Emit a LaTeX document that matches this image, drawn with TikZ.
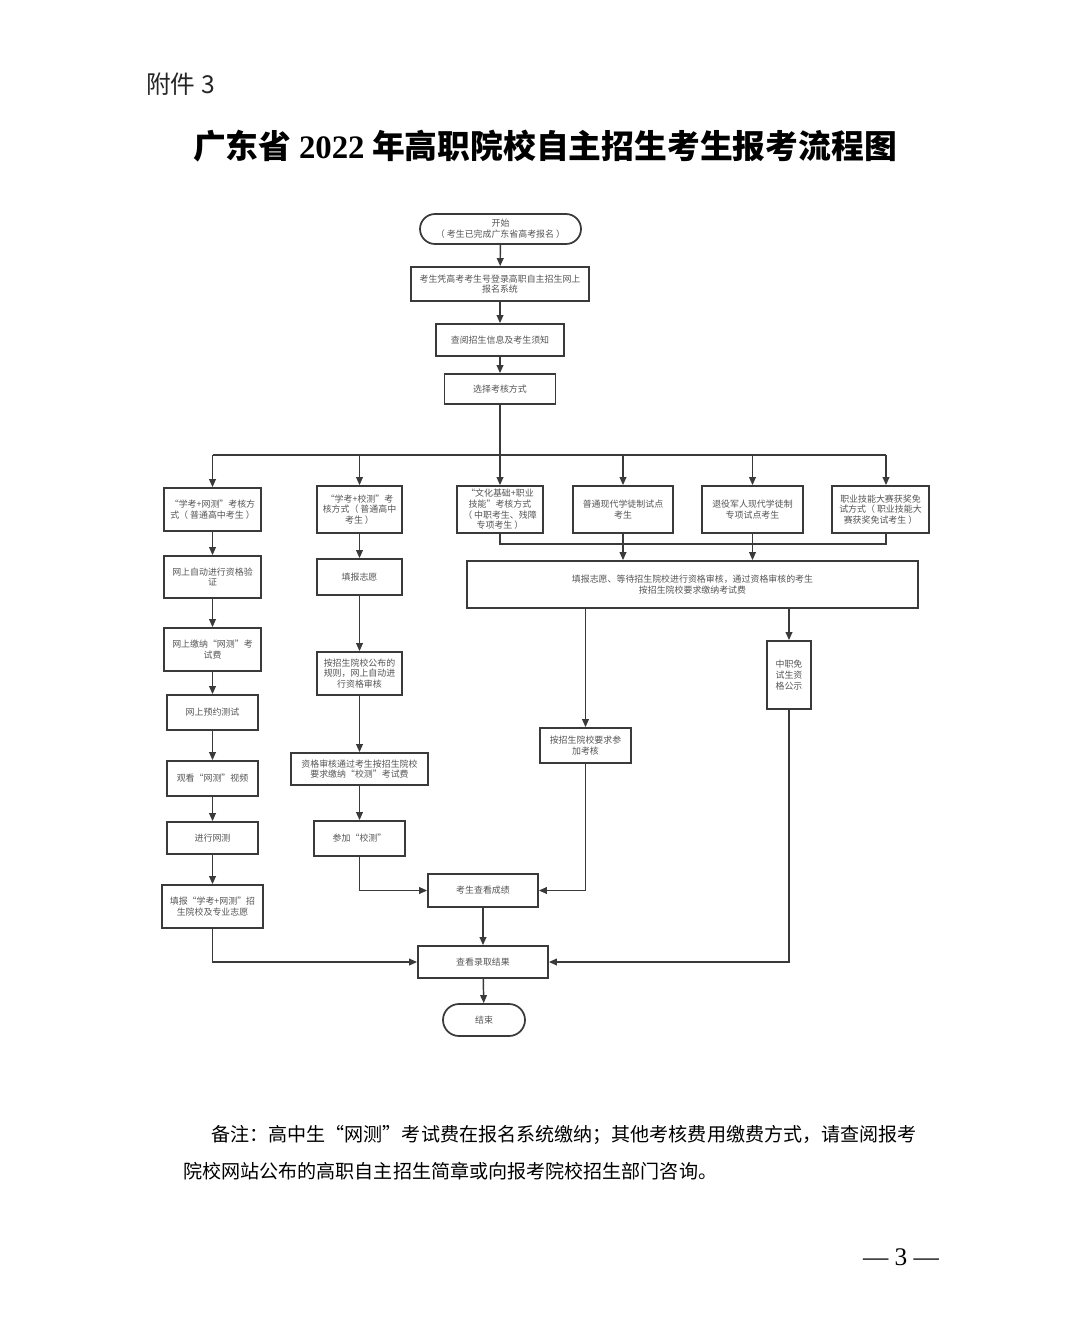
\documentclass[tikz,border=0pt]{standalone}
\usepackage{fontspec}
\setmainfont{Liberation Serif}
\newfontfamily\cjk{Noto Sans CJK SC}
\newfontfamily\serifb{Liberation Serif}
\usetikzlibrary{arrows.meta,shapes.misc}
\definecolor{linec}{HTML}{3A3A3A}
\definecolor{textc}{HTML}{555555}
\begin{document}
\begin{tikzpicture}[x=0.75pt,y=-0.75pt,
 pbox/.style={draw=linec,line width=1.3pt,fill=white,text=textc,align=center,inner sep=0pt,font=\cjk\fontsize{6.7}{8}\selectfont},
 sz/.style 2 args={minimum width=#1*0.75pt,minimum height=#2*0.75pt},
 termbox/.style={pbox,rounded rectangle},
 arr/.style={draw=linec,line width=1.1pt,-{Triangle[length=6pt,width=5pt]}},
 ln/.style={draw=linec,line width=1.1pt}]
\useasboundingbox (0,0) rectangle (1080,1328);
\fill[white] (0,0) rectangle (1080,1328);

% header
\node[anchor=west,inner sep=0pt,font=\cjk\fontsize{18.5}{20}\selectfont,text=black!85] (att) at (146,84) {附件 3};
\node[inner sep=0pt,font=\cjk\bfseries\fontsize{24.6}{28}\selectfont] (title) at (545,146) {广东省 {\serifb\bfseries 2022} 年高职院校自主招生考生报考流程图};

% top chain
\node[termbox,sz={161}{30}] (start) at (500.5,229) {开始\\（ 考生已完成广东省高考报名 ）};
\node[pbox,sz={178}{34}] (b1) at (500,284) {考生凭高考考生号登录高职自主招生网上\\报名系统};
\node[pbox,sz={128}{32}] (b2) at (500,340) {查阅招生信息及考生须知};
\node[pbox,sz={111}{30}] (b3) at (500,389) {选择考核方式};

% left column
\node[pbox,sz={97}{43}] (L1) at (212.5,509.5) {“学考+网测”考核方\\式（ 普通高中考生 ）};
\node[pbox,sz={97}{42}] (L2) at (212.5,577) {网上自动进行资格验\\证};
\node[pbox,sz={97}{43}] (L3) at (212.5,649.5) {网上缴纳“网测”考\\试费};
\node[pbox,sz={91}{35}] (L4) at (212.5,712.5) {网上预约测试};
\node[pbox,sz={91}{35}] (L5) at (212.5,778.5) {观看“网测”视频};
\node[pbox,sz={91}{32}] (L6) at (212.5,838) {进行网测};
\node[pbox,sz={101}{43}] (L7) at (212.5,906.5) {填报“学考+网测”招\\生院校及专业志愿};

% middle column
\node[pbox,sz={85}{47}] (M1) at (359.5,509.5) {“学考+校测”考\\核方式（ 普通高中\\考生 ）};
\node[pbox,sz={85}{36}] (M2) at (359.5,577) {填报志愿};
\node[pbox,sz={85}{43}] (M3) at (359.5,673.5) {按招生院校公布的\\规则，网上自动进\\行资格审核};
\node[pbox,sz={137}{32}] (M4) at (359.5,769) {资格审核通过考生按招生院校\\要求缴纳“校测”考试费};
\node[pbox,sz={91}{35}] (M5) at (359.5,838.5) {参加“校测”};

% right group
\node[pbox,sz={86}{47}] (C3) at (500,509.5) {“文化基础+职业\\技能”考核方式\\（ 中职考生、残障\\专项考生 ）};
\node[pbox,sz={100}{47}] (C4) at (623,509.5) {普通现代学徒制试点\\考生};
\node[pbox,sz={101}{47}] (C5) at (752.5,509.5) {退役军人现代学徒制\\专项试点考生};
\node[pbox,sz={97}{47}] (C6) at (880.5,509.5) {职业技能大赛获奖免\\试方式（ 职业技能大\\赛获奖免试考生 ）};
\node[pbox,sz={451}{47}] (big) at (692.5,584.5) {填报志愿、等待招生院校进行资格审核，通过资格审核的考生\\按招生院校要求缴纳考试费};
\node[pbox,sz={91}{35}] (R1) at (585.5,745.5) {按招生院校要求参\\加考核};
\node[pbox,sz={44}{68}] (R2) at (789,675) {中职免\\试生资\\格公示};

% bottom
\node[pbox,sz={110}{33}] (score) at (483,890.5) {考生查看成绩};
\node[pbox,sz={130}{32}] (result) at (483,962) {查看录取结果};
\node[termbox,sz={82}{32}] (end) at (484,1020) {结束};

% notes
\node[anchor=west,inner sep=0pt,font=\cjk\fontsize{14.3}{16}\selectfont] (note1) at (211,1135) {备注：高中生“网测”考试费在报名系统缴纳；其他考核费用缴费方式，请查阅报考};
\node[anchor=west,inner sep=0pt,font=\cjk\fontsize{14.3}{16}\selectfont] (note2) at (183,1171) {院校网站公布的高职自主招生简章或向报考院校招生部门咨询。};
\node[inner sep=0pt,font=\fontsize{19}{20}\selectfont] (page) at (901,1257) {— 3 —};

% connectors
\coordinate (busL) at (212.5,455);
\coordinate (busR) at (886,455);
\coordinate (lowL) at (500,544);
\coordinate (lowR) at (886,544);

\draw[arr] (start) -- (b1);
\draw[arr] (b1) -- (b2);
\draw[arr] (b2) -- (b3);
\draw[ln] (b3.south) -- (b3.south |- busL);
\draw[ln] (busL) -- (busR);
\draw[arr] (busL) -- (L1.north);
\draw[arr] (M1.north |- busL) -- (M1.north);
\draw[arr] (C3.north |- busL) -- (C3.north);
\draw[arr] (C4.north |- busL) -- (C4.north);
\draw[arr] (C5.north |- busL) -- (C5.north);
\draw[arr] (busR) -- (busR |- C6.north);

\draw[arr] (L1) -- (L2);
\draw[arr] (L2) -- (L3);
\draw[arr] (L3) -- (L4);
\draw[arr] (L4) -- (L5);
\draw[arr] (L5) -- (L6);
\draw[arr] (L6) -- (L7);

\draw[arr] (M1) -- (M2);
\draw[arr] (M2) -- (M3);
\draw[arr] (M3) -- (M4);
\draw[arr] (M4) -- (M5);
\draw[arr] (M5.south) |- (score.west);

\draw[ln] (C3.south) -- (lowL) -- (lowR) -- (lowR |- C6.south);
\draw[arr] (C4.south) -- (C4.south |- big.north);
\draw[arr] (C5.south) -- (C5.south |- big.north);
\draw[arr] (R1.north |- big.south) -- (R1.north);
\draw[arr] (R2.north |- big.south) -- (R2.north);
\draw[arr] (R1.south) |- (score.east);
\draw[arr] (score) -- (result);
\draw[arr] (L7.south) |- (result.west);
\draw[arr] (R2.south) |- (result.east);
\draw[arr] (result) -- (end);
\end{tikzpicture}
\end{document}
